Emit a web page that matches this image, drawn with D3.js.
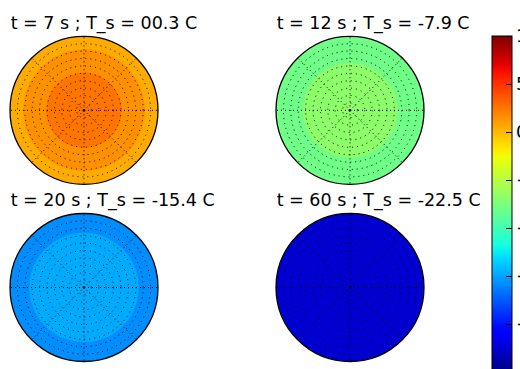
<!DOCTYPE html>
<html>
<head>
<meta charset="utf-8">
<script src="https://cdn.jsdelivr.net/npm/d3@7"></script>
<style>
  html, body { margin: 0; padding: 0; background: #fff; }
  svg { display: block; }
  text { font-family: "DejaVu Sans", sans-serif; }
</style>
</head>
<body>
<script>
// Snapshot times and surface temperatures for each panel
const times = [7, 12, 20, 60];
const surfaceTemps = ["00.3", "-7.9", "-15.4", "-22.5"];

// Filled contour bands: outer radius (fraction of disc radius) and band temperature (C)
const bandRadii = [
  [1.0, 0.82, 0.51],
  [1.0, 0.64],
  [1.0, 0.74],
  [1.0]
];
const bandTemps = [
  [0.5, 1.5, 2.5],
  [-8.0, -6.8],
  [-15.75, -14.75],
  [-22.5]
];

// Polar grid
const ringFractions = [0.1, 0.2, 0.3, 0.4, 0.5, 0.6, 0.7, 0.8, 0.9];
const spokeAngles = [0, 45, 90, 135, 180, 225, 270, 315];

// Colour bar
const tempRange = [-25, 10];
const cbarTicks = [10, 5, 0, -5, -10, -15, -20, -25];

const W = 520, H = 369;
const FONT = 17.5;
const svg = d3.select("body").append("svg").attr("width", W).attr("height", H);

// matplotlib "jet" colormap
function jet(x) {
  x = Math.max(0, Math.min(1, x));
  const seg = (pts) => {
    for (let i = 1; i < pts.length; i++) {
      if (x <= pts[i][0]) {
        const [x0, y0] = pts[i - 1], [x1, y1] = pts[i];
        return y0 + (y1 - y0) * (x - x0) / (x1 - x0);
      }
    }
    return pts[pts.length - 1][1];
  };
  const r = seg([[0, 0], [0.35, 0], [0.66, 1], [0.89, 1], [1, 0.5]]);
  const g = seg([[0, 0], [0.125, 0], [0.375, 1], [0.64, 1], [0.91, 0], [1, 0]]);
  const b = seg([[0, 0.5], [0.11, 1], [0.34, 1], [0.65, 0], [1, 0]]);
  return d3.rgb(r * 255, g * 255, b * 255).formatHex();
}
const color = d3.scaleSequential(jet).domain(tempRange);

const R = 74;
const rScale = d3.scaleLinear().domain([0, 1]).range([0, R]);
const centersX = [84, 350];
const centersY = [110.3, 287.5];

times.forEach((t, i) => {
  const cx = centersX[i % 2], cy = centersY[Math.floor(i / 2)];
  const g = svg.append("g").attr("transform", `translate(${cx},${cy})`);

  // contour bands, outermost first
  g.selectAll("circle.band")
    .data(d3.zip(bandRadii[i], bandTemps[i]))
    .join("circle")
    .attr("class", "band")
    .attr("r", d => rScale(d[0]))
    .attr("fill", d => color(d[1]));

  // dotted rings
  g.selectAll("circle.ring")
    .data(ringFractions)
    .join("circle")
    .attr("class", "ring")
    .attr("r", d => rScale(d))
    .attr("fill", "none")
    .attr("stroke", "#000")
    .attr("stroke-width", 1)
    .attr("stroke-dasharray", "1,4");

  // dotted spokes
  g.selectAll("line.spoke")
    .data(spokeAngles)
    .join("line")
    .attr("class", "spoke")
    .attr("x1", 0).attr("y1", 0)
    .attr("x2", d => rScale(1) * Math.cos(d * Math.PI / 180))
    .attr("y2", d => -rScale(1) * Math.sin(d * Math.PI / 180))
    .attr("stroke", "#000")
    .attr("stroke-width", 1)
    .attr("stroke-dasharray", "1,3");

  g.append("circle").attr("r", 1.3).attr("fill", "#000");

  // disc outline
  g.append("circle")
    .attr("r", rScale(1))
    .attr("fill", "none")
    .attr("stroke", "#000")
    .attr("stroke-width", 1.3);

  svg.append("text")
    .attr("x", cx - 73.3)
    .attr("y", cy - 81.3)
    .attr("font-size", FONT)
    .attr("fill", "#000")
    .text(`t = ${t} s ; T_s = ${surfaceTemps[i]} C`);
});

// Colour bar
const cbX = 492, cbW = 20;
const yScale = d3.scaleLinear().domain(tempRange).range([372, 36]);
const defs = svg.append("defs");
const grad = defs.append("linearGradient")
  .attr("id", "cbgrad")
  .attr("x1", 0).attr("y1", 1).attr("x2", 0).attr("y2", 0);
d3.range(0, 1.0001, 0.02).forEach(f => {
  grad.append("stop").attr("offset", f).attr("stop-color", jet(f));
});
svg.append("rect")
  .attr("x", cbX).attr("y", yScale(tempRange[1]))
  .attr("width", cbW).attr("height", yScale(tempRange[0]) - yScale(tempRange[1]))
  .attr("fill", "url(#cbgrad)")
  .attr("stroke", "#000")
  .attr("stroke-width", 1);

const cbAxis = d3.axisRight(yScale)
  .tickValues(cbarTicks)
  .tickSize(-6)
  .tickPadding(10)
  .tickFormat(d3.format("d"));
const axG = svg.append("g")
  .attr("transform", `translate(${cbX + cbW},0)`)
  .call(cbAxis);
axG.select(".domain").remove();
axG.selectAll(".tick line").attr("stroke", "#000").attr("stroke-width", 1);
axG.selectAll(".tick text")
  .attr("font-size", FONT)
  .attr("font-family", "DejaVu Sans, sans-serif")
  .attr("fill", "#000")
  .attr("x", 4);
</script>
</body>
</html>
